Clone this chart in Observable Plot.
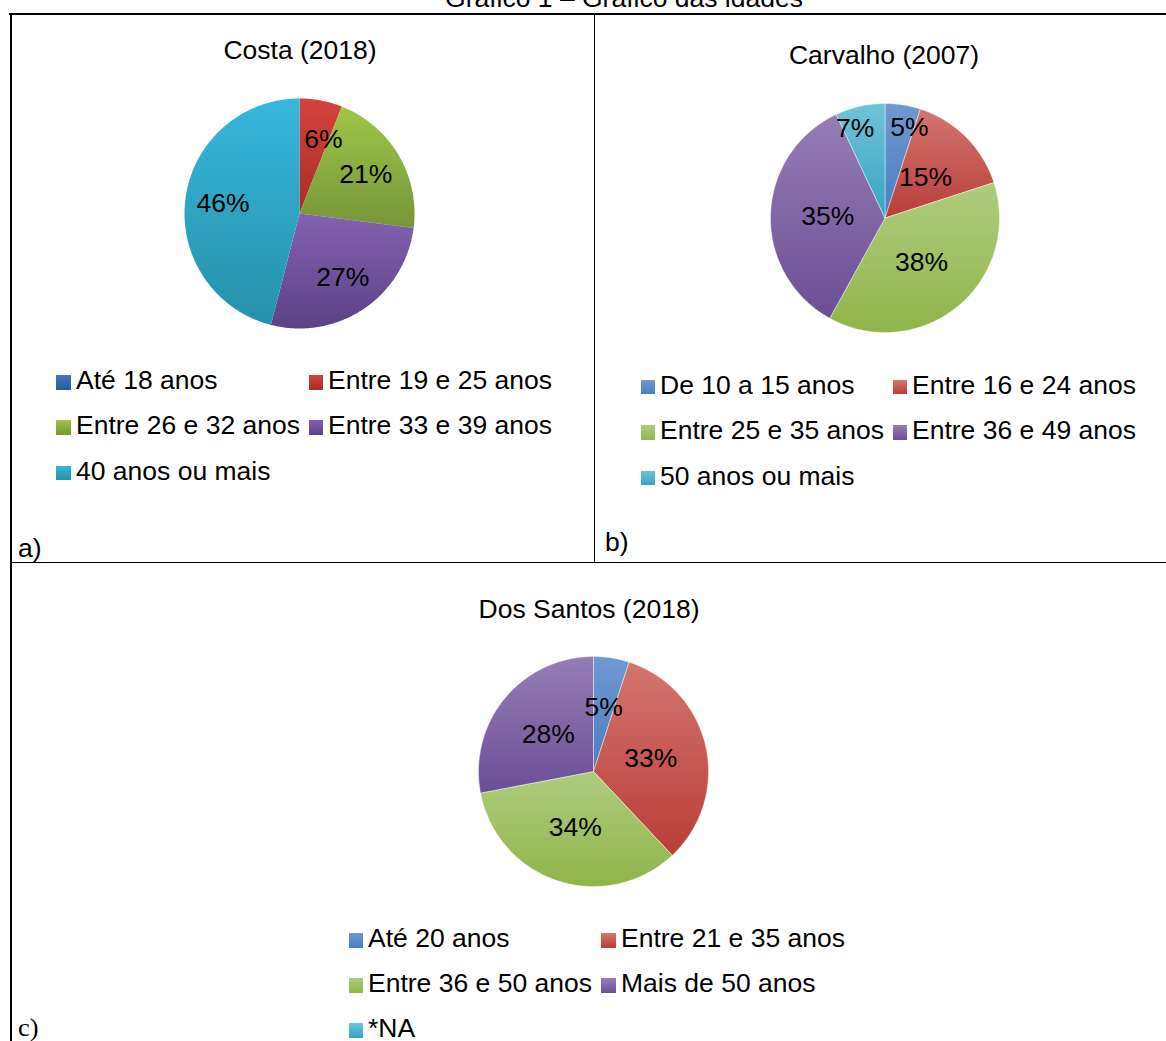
<!DOCTYPE html>
<html lang="pt">
<head>
<meta charset="utf-8">
<title>Gráfico das idades</title>
<script src="https://cdn.jsdelivr.net/npm/d3@7"></script>
<script src="https://cdn.jsdelivr.net/npm/@observablehq/plot@0.6"></script>
<style>
  body { margin: 0; background: #fff; }
  #page { position: relative; width: 1166px; height: 1041px; overflow: hidden;
          font-family: "Liberation Sans", Arial, sans-serif; color: #000; background: #fff; }
  .txt { position: absolute; font-size: 25px; line-height: 1; white-space: nowrap;
         transform: scaleX(1.06); transform-origin: left center; }
  .ctr { text-align: center; width: 700px; transform-origin: center center; }
  .rule { position: absolute; background: #000; }
  .sw { position: absolute; width: 14.5px; height: 14.5px; }
  .pie { position: absolute; }
  .serif { font-family: "Liberation Serif", "Times New Roman", serif; }
</style>
</head>
<body>
<div id="page"></div>
<script>
// Costa (2018)
const costaLabels = ["Até 18 anos", "Entre 19 e 25 anos", "Entre 26 e 32 anos", "Entre 33 e 39 anos", "40 anos ou mais"];
const costaValues = [0, 6, 21, 27, 46];

// Carvalho (2007)
const carvalhoLabels = ["De 10 a 15 anos", "Entre 16 e 24 anos", "Entre 25 e 35 anos", "Entre 36 e 49 anos", "50 anos ou mais"];
const carvalhoValues = [5, 15, 38, 35, 7];

// Dos Santos (2018)
const santosLabels = ["Até 20 anos", "Entre 21 e 35 anos", "Entre 36 e 50 anos", "Mais de 50 anos", "*NA"];
const santosValues = [5, 33, 34, 28, 0];

const pageTitle = "Gráfico 1 – Gráfico das idades";

// gradient stops (top, bottom) for each series colour
const vividPalette = [
  ["#4079c2", "#2c5a98"],
  ["#d6423d", "#a62d29"],
  ["#9fc647", "#76953a"],
  ["#8461b2", "#5b4285"],
  ["#36b7dc", "#2790a9"]
];
const softPalette = [
  ["#7099d1", "#4a7dbe"],
  ["#d4756f", "#b93d39"],
  ["#afcc7f", "#90b44a"],
  ["#967db6", "#6c4e95"],
  ["#70c3d8", "#35a5c3"]
];

const FONT = '"Liberation Sans", Arial, sans-serif';
const page = document.getElementById("page");

function addText(str, left, baseline, cls = "") {
  const d = document.createElement("div");
  d.className = "txt " + cls;
  d.textContent = str;
  d.style.left = left + "px";
  d.style.top = (baseline - 21.2) + "px";
  page.appendChild(d);
  return d;
}
function addCentered(str, cx, baseline) {
  return addText(str, cx - 350, baseline, "ctr");
}
function addRule(left, top, width, height) {
  const d = document.createElement("div");
  d.className = "rule";
  Object.assign(d.style, {left: left + "px", top: top + "px", width: width + "px", height: height + "px"});
  page.appendChild(d);
}

// small slices get their label pushed outward and turned away from the
// nearest neighbouring small slice so the two labels do not collide
function pieChart({id, values, palette, radius, labelR, smallLabelR, smallTurn, separator}) {
  const total = d3.sum(values);
  const pad = 4;
  const size = 2 * (radius + pad);
  const k = (radius + pad) / radius;
  const outline = [];
  const labels = [];
  let acc = 0;
  values.forEach((v, i) => {
    const a0 = acc / total * 2 * Math.PI;
    acc += v;
    const a1 = acc / total * 2 * Math.PI;
    if (v <= 0) return;
    // slice outline: centre, arc clockwise from 12 o'clock, centre
    const steps = Math.max(2, Math.ceil((a1 - a0) / (Math.PI / 360)));
    outline.push({slice: i, x: 0, y: 0});
    for (let j = 0; j <= steps; j++) {
      const a = a0 + (a1 - a0) * j / steps;
      outline.push({slice: i, x: Math.sin(a), y: Math.cos(a)});
    }
    outline.push({slice: i, x: 0, y: 0});
    let am = (a0 + a1) / 2;
    const small = v / total < 0.1;
    if (small && smallTurn) am += (am < Math.PI ? 1 : -1) * smallTurn * Math.PI / 180;
    const r = small ? smallLabelR : labelR;
    labels.push({x: r * Math.sin(am), y: r * Math.cos(am), text: `${v}%`});
  });

  const gradients = () => {
    const defs = d3.create("svg:defs");
    palette.forEach(([top, bottom], i) => {
      const g = defs.append("linearGradient")
        .attr("id", `${id}-g${i}`)
        .attr("x1", 0).attr("y1", 0).attr("x2", 0).attr("y2", 1);
      g.append("stop").attr("offset", "0%").attr("stop-color", top);
      g.append("stop").attr("offset", "100%").attr("stop-color", bottom);
    });
    return defs.node();
  };

  return Plot.plot({
    width: size,
    height: size,
    margin: 0,
    style: {fontFamily: FONT, background: "transparent", overflow: "visible"},
    x: {domain: [-k, k], axis: null},
    y: {domain: [-k, k], axis: null},
    color: {type: "identity"},
    marks: [
      gradients,
      Plot.line(outline, {
        x: "x", y: "y", z: "slice",
        fill: d => `url(#${id}-g${d.slice})`,
        stroke: separator ? "#ffffff" : "none",
        strokeOpacity: 0.55,
        strokeWidth: 0.8,
        curve: "linear"
      }),
      Plot.text(labels, {
        x: "x", y: "y", text: "text",
        fontSize: 26.5, fill: "#000", fontFamily: FONT
      })
    ]
  });
}

function placePie(svg, cx, cy) {
  const w = +svg.getAttribute("width");
  svg.classList.add("pie");
  svg.style.left = (cx - w / 2) + "px";
  svg.style.top = (cy - w / 2) + "px";
  page.appendChild(svg);
}

function legend(labels, palette, cols, rows) {
  labels.forEach((lab, i) => {
    const c = i % 2, r = Math.floor(i / 2);
    const sw = document.createElement("div");
    sw.className = "sw";
    sw.style.left = cols[c] + "px";
    sw.style.top = (rows[r] - 14.5) + "px";
    sw.style.background = `linear-gradient(${palette[i][0]}, ${palette[i][1]})`;
    page.appendChild(sw);
    addText(lab, cols[c] + 19.5, rows[r]);
  });
}

// table frame
addRule(9, 13, 1157, 2.2);
addRule(9.5, 13, 2.5, 1028);
addRule(593.8, 14, 1.6, 549);
addRule(10, 561.8, 1156, 1.7);

// page title (partly above the frame)
addCentered(pageTitle, 623.5, 7);

// a) Costa (2018)
addCentered("Costa (2018)", 299.5, 59);
placePie(pieChart({id: "costa", values: costaValues, palette: vividPalette,
  radius: 115, labelR: 0.67, smallLabelR: 0.68, smallTurn: 7, separator: false}), 299, 213);
legend(costaLabels, vividPalette, [56, 308.5], [389.5, 434.5, 480]);
addText("a)", 18, 557);

// b) Carvalho (2007)
addCentered("Carvalho (2007)", 883.5, 64);
placePie(pieChart({id: "carvalho", values: carvalhoValues, palette: softPalette,
  radius: 114.5, labelR: 0.5, smallLabelR: 0.82, smallTurn: 6, separator: true}), 884, 217.5);
legend(carvalhoLabels, softPalette, [640.5, 892.5], [394, 439.5, 485]);
addText("b)", 605, 551);

// c) Dos Santos (2018)
addCentered("Dos Santos (2018)", 588.5, 618);
placePie(pieChart({id: "santos", values: santosValues, palette: softPalette,
  radius: 115, labelR: 0.51, smallLabelR: 0.56, smallTurn: 0, separator: true}), 592.5, 771);
legend(santosLabels, softPalette, [348.5, 601], [947.5, 992.5, 1037.5]);
addText("c)", 18, 1036, "serif");
</script>
</body>
</html>
